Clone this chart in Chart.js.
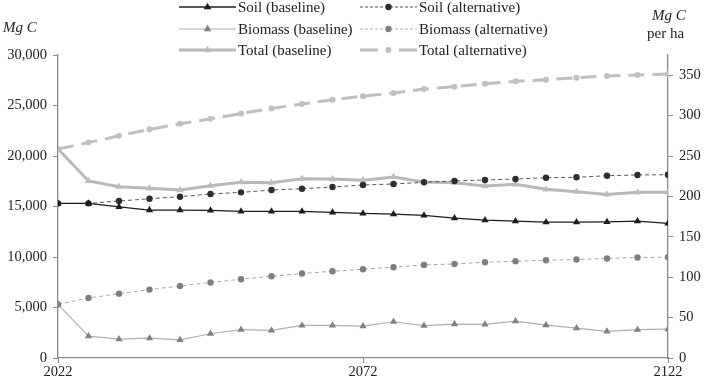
<!DOCTYPE html>
<html>
<head>
<meta charset="utf-8">
<script src="https://cdn.jsdelivr.net/npm/chart.js@4.4.1/dist/chart.umd.min.js"></script>
<style>
  html, body { margin: 0; padding: 0; background: #fff; }
  #wrap { position: relative; width: 706px; height: 379px; color: #222; }
  #wrap canvas { position: absolute; left: 0; top: 0; }
  .lbl { position: absolute; line-height: 16px; white-space: nowrap; }
  .it { font-style: italic; }
  .leg { position: absolute; height: 16px; display: flex; align-items: center; white-space: nowrap; }
  .leg svg { margin-right: 2px; flex: none; }
</style>
</head>
<body>
<div id="wrap">
  <canvas id="chart_carbonStock" width="706" height="379"></canvas>
  <div class="lbl it" id="lblLeft" style="left:3px; top:19px;">Mg C</div>
  <div class="lbl it" id="lblRight1" style="left:652px; top:7px;">Mg C</div>
  <div class="lbl" id="lblRight2" style="left:647px; top:25px;">per ha</div>
  <div id="legend"></div>
</div>
<script>
var years = [2022, 2027, 2032, 2037, 2042, 2047, 2052, 2057, 2062, 2067, 2072,
             2077, 2082, 2087, 2092, 2097, 2102, 2107, 2112, 2117, 2122];

var soilBaseline = [15300, 15300, 14970, 14650, 14650, 14620, 14520, 14520, 14520, 14420, 14320,
                    14250, 14120, 13850, 13650, 13550, 13450, 13450, 13480, 13550, 13330];
var soilAlternative = [15300, 15310, 15540, 15770, 15970, 16240, 16400, 16630, 16760, 16930, 17130,
                       17230, 17400, 17530, 17630, 17720, 17850, 17890, 18050, 18120, 18150];
var biomassBaseline = [5300, 2170, 1870, 1970, 1800, 2400, 2800, 2730, 3230, 3230, 3160,
                       3590, 3200, 3360, 3330, 3650, 3260, 2960, 2630, 2800, 2860];
var biomassAlternative = [5310, 5940, 6370, 6770, 7130, 7470, 7800, 8090, 8360, 8590, 8790,
                          8990, 9220, 9310, 9480, 9580, 9680, 9750, 9850, 9950, 9980];
var totalBaseline = [20700, 17530, 16960, 16800, 16630, 17060, 17400, 17360, 17750, 17720, 17600,
                     17920, 17430, 17360, 17030, 17200, 16700, 16460, 16200, 16400, 16400];
var totalAlternative = [20700, 21330, 22000, 22640, 23190, 23680, 24210, 24710, 25140, 25570, 25920,
                        26230, 26630, 26860, 27160, 27390, 27560, 27750, 27920, 28020, 28120];

var xTicks = [2022, 2072, 2122];
var leftTicks = [0, 5000, 10000, 15000, 20000, 25000, 30000];
var rightTicks = [0, 50, 100, 150, 200, 250, 300, 350];

function pts(values) {
  return values.map(function (v, i) { return { x: years[i], y: v }; });
}

// serif wanted; if the box has none, shrink whatever we get so widths still fit
var fontFamily = '"Liberation Serif", "Times New Roman", Times, "DejaVu Serif", serif';
function fitSize(text, target, base, floor) {
  var ctx = document.createElement('canvas').getContext('2d');
  ctx.font = base + 'px ' + fontFamily;
  var w = ctx.measureText(text).width;
  var s = base * target / w;
  return Math.max(floor, Math.min(base, Math.round(s * 10) / 10));
}
var legendSize = fitSize('Biomass (baseline)', 116, 15, 12);
var tickSize = fitSize('30,000', 40, 15, 13);

var series = [
  { label: 'Soil (baseline)', data: soilBaseline, line: '#1e1e1e', width: 1.3, dash: [], legDash: [], point: 'triangle', fill: '#1e1e1e', r: 4.2, order: 1 },
  { label: 'Soil (alternative)', data: soilAlternative, line: '#555555', width: 1, dash: [4, 3], legDash: [3, 2], point: 'circle', fill: '#2e2e2e', r: 3.2, order: 2 },
  { label: 'Biomass (baseline)', data: biomassBaseline, line: '#b0b0b0', width: 1.2, dash: [], legDash: [], point: 'triangle', fill: '#808080', r: 4.2, order: 3 },
  { label: 'Biomass (alternative)', data: biomassAlternative, line: '#a8a8a8', width: 1, dash: [4, 3], legDash: [3, 2], point: 'circle', fill: '#7f7f7f', r: 3.2, order: 4 },
  { label: 'Total (baseline)', data: totalBaseline, line: '#b8b8b8', width: 3, dash: [], legDash: [], point: 'triangle', fill: '#bdbdbd', r: 4.2, order: 5 },
  { label: 'Total (alternative)', data: totalAlternative, line: '#bfbfbf', width: 3, dash: [16, 8], legDash: [18, 21], point: 'circle', fill: '#c0c0c0', r: 3, order: 6 }
];

var axisColor = '#8a8a8a';
var tickFont = { family: fontFamily, size: tickSize };

var chart_carbonStock = new Chart(document.getElementById('chart_carbonStock'), {
  type: 'line',
  data: {
    datasets: series.map(function (s) {
      return {
        label: s.label,
        data: pts(s.data),
        borderColor: s.line,
        borderWidth: s.width,
        borderDash: s.dash,
        pointStyle: s.point,
        pointRadius: s.r,
        pointBackgroundColor: s.fill,
        pointBorderColor: s.fill,
        pointBorderWidth: 0,
        tension: 0,
        order: s.order,
        yAxisID: 'y'
      };
    })
  },
  options: {
    animation: false,
    responsive: false,
    layout: { padding: { top: 55, left: 0, right: 0, bottom: 0 } },
    plugins: {
      legend: { display: false },
      tooltip: { enabled: false }
    },
    scales: {
      x: {
        type: 'linear',
        min: 2022,
        max: 2122,
        afterBuildTicks: function (scale) { scale.ticks = xTicks.map(function (v) { return { value: v }; }); },
        afterFit: function (scale) { scale.height = 21; },
        border: { color: axisColor, width: 1.3 },
        grid: { drawOnChartArea: false, color: axisColor, tickLength: 5 },
        ticks: { color: '#222', font: tickFont, padding: 0, maxRotation: 0, callback: function (v) { return String(v); } }
      },
      y: {
        position: 'left',
        min: 0,
        max: 30000,
        afterBuildTicks: function (scale) { scale.ticks = leftTicks.map(function (v) { return { value: v }; }); },
        afterFit: function (scale) { scale.width = 58; },
        border: { color: axisColor, width: 1.3 },
        grid: { drawOnChartArea: false, color: axisColor, tickLength: 5 },
        ticks: { color: '#222', font: tickFont, padding: 6, callback: function (v) { return v.toLocaleString('en-US'); } }
      },
      y1: {
        position: 'right',
        min: 0,
        max: 375,
        afterBuildTicks: function (scale) { scale.ticks = rightTicks.map(function (v) { return { value: v }; }); },
        afterFit: function (scale) { scale.width = 38; },
        border: { color: axisColor, width: 1.3 },
        grid: { drawOnChartArea: false, color: axisColor, tickLength: 5 },
        ticks: { color: '#222', font: tickFont, padding: 6 }
      }
    }
  }
});

['lblLeft', 'lblRight1', 'lblRight2'].forEach(function (id) {
  var el = document.getElementById(id);
  el.style.fontFamily = fontFamily;
  el.style.fontSize = legendSize + 'px';
});

// legend: line sample with marker in the middle, two columns, three rows
var legendPos = [
  { left: 179, top: -1 }, { left: 360, top: -1 },
  { left: 179, top: 21 }, { left: 360, top: 21 },
  { left: 179, top: 42 }, { left: 360, top: 42 }
];
var legendBox = document.getElementById('legend');
series.forEach(function (s, i) {
  var div = document.createElement('div');
  div.className = 'leg';
  div.style.left = legendPos[i].left + 'px';
  div.style.top = legendPos[i].top + 'px';
  div.style.fontFamily = fontFamily;
  div.style.fontSize = legendSize + 'px';
  var marker = s.point === 'triangle'
    ? '<polygon points="28.5,3.8 32.3,10.2 24.7,10.2" fill="' + s.fill + '"/>'
    : '<circle cx="28.5" cy="8" r="' + s.r + '" fill="' + s.fill + '"/>';
  div.innerHTML = '<svg width="57" height="16" viewBox="0 0 57 16">' +
    '<line x1="0" y1="8" x2="57" y2="8" stroke="' + s.line + '" stroke-width="' + s.width + '"' +
    (s.legDash.length ? ' stroke-dasharray="' + s.legDash.join(',') + '"' : '') + '/>' + marker + '</svg>' +
    '<span>' + s.label + '</span>';
  legendBox.appendChild(div);
});
</script>
</body>
</html>
